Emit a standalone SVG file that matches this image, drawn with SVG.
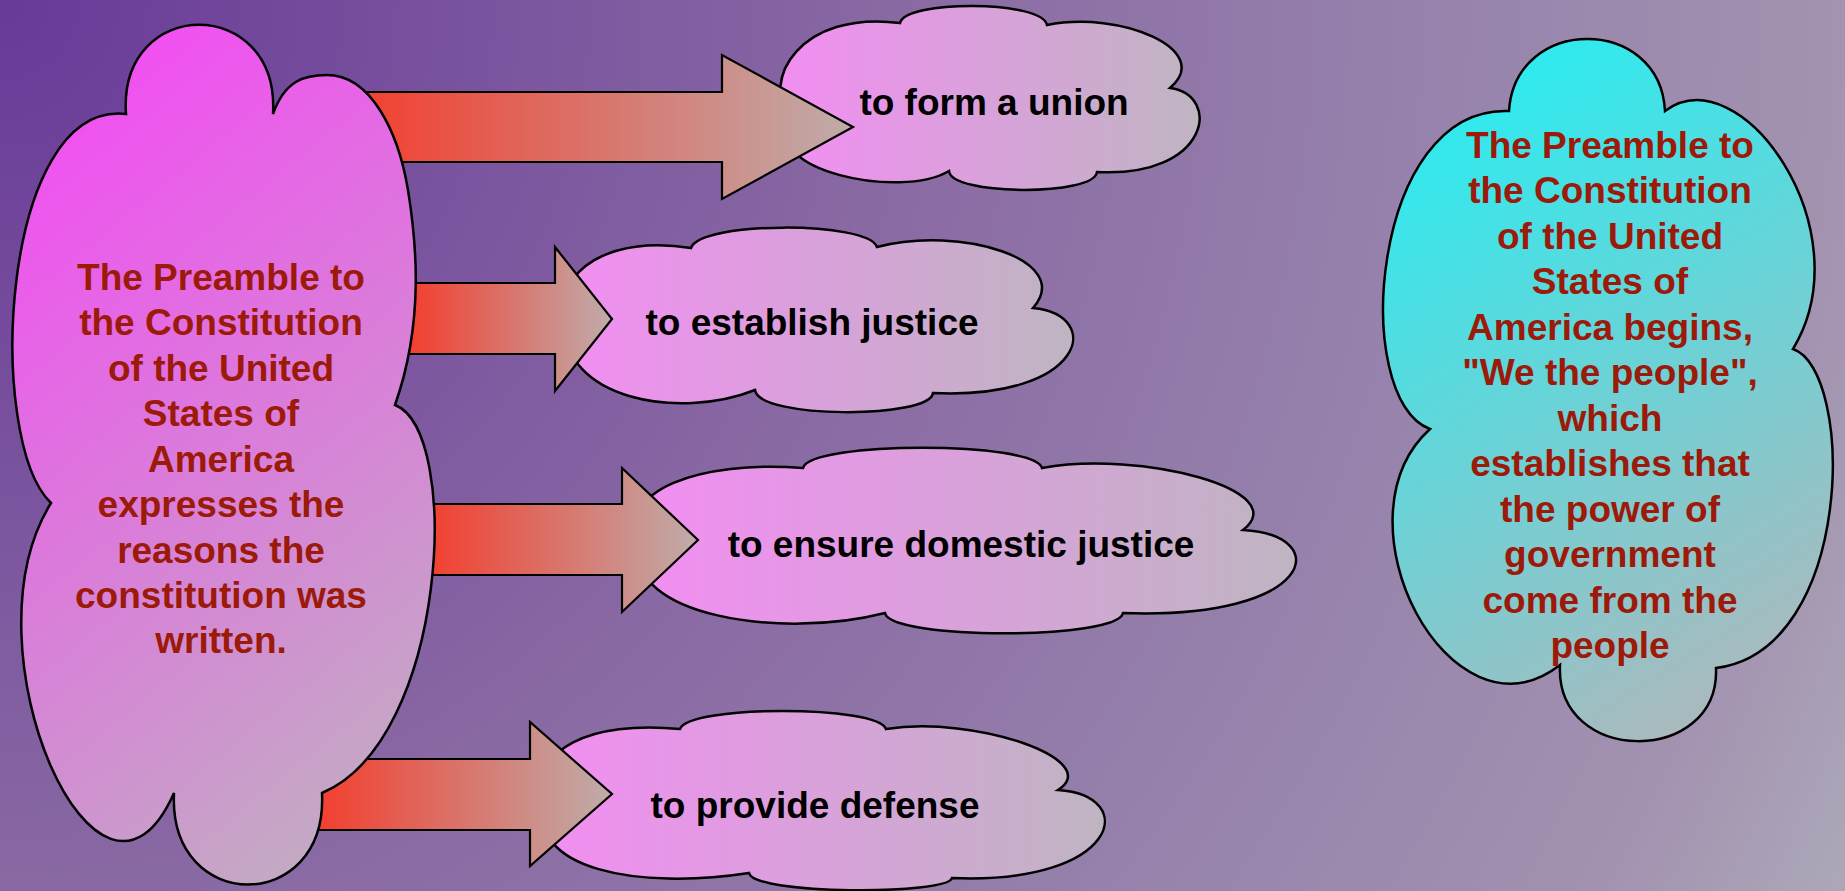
<svg xmlns="http://www.w3.org/2000/svg" width="1845" height="891" viewBox="0 0 1845 891">
<defs>
<radialGradient id="bg" gradientUnits="userSpaceOnUse" cx="0" cy="0" r="2030">
<stop offset="0" stop-color="#683a98"/>
<stop offset="0.45" stop-color="#8a6aa4"/>
<stop offset="0.7" stop-color="#9682ac"/>
<stop offset="0.9" stop-color="#a292b0"/>
<stop offset="1" stop-color="#aca6b8"/>
</radialGradient>
<linearGradient id="gLeft" x1="0.3" y1="0" x2="0.7" y2="1">
<stop offset="0" stop-color="#f24ef2"/>
<stop offset="1" stop-color="#c2acc2"/>
</linearGradient>
<linearGradient id="gRight" x1="0.3" y1="0" x2="0.7" y2="1">
<stop offset="0" stop-color="#2aecf0"/>
<stop offset="1" stop-color="#aeb8bc"/>
</linearGradient>
<linearGradient id="gTarget" x1="0" y1="0" x2="1" y2="0">
<stop offset="0" stop-color="#f28ef2"/>
<stop offset="1" stop-color="#bfb5c2"/>
</linearGradient>
<linearGradient id="gArrow" x1="0" y1="0" x2="1" y2="0">
<stop offset="0" stop-color="#f43c2c"/>
<stop offset="1" stop-color="#bfacaa"/>
</linearGradient>
<style>
.cloud{stroke:#000;stroke-width:2.5;stroke-linejoin:miter}
.arrow{fill:url(#gArrow);stroke:#000;stroke-width:2.2;stroke-linejoin:miter}
.lbl{font-family:"Liberation Sans",Arial,sans-serif;font-weight:bold;font-size:37px;fill:#000;text-anchor:middle}
.big{font-family:"Liberation Sans",Arial,sans-serif;font-weight:bold;font-size:37px;fill:#9b1a0a;text-anchor:middle}
</style>
</defs>
<rect x="0" y="0" width="1845" height="891" fill="url(#bg)"/>

<g id="node-union">
<path class="cloud" fill="url(#gTarget)" d="M900,23 C905,0 1042,0 1047,25 C1120,10 1215,50 1170,88 C1222,95 1210,178 1097,172 C1095,196 951,196 949,171 C900,200 760,170 790,120 C760,80 800,10 900,23 Z"/>
<text class="lbl" x="994" y="115">to form a union</text>
</g>

<g id="node-justice">
<path class="cloud" fill="url(#gTarget)" d="M691,248 C700,221 868,221 877,247 C960,225 1075,260 1033,308 C1105,315 1085,400 933,393 C930,419 758,419 755,390 C680,420 560,400 565,320 C555,270 610,235 691,248 Z"/>
<text class="lbl" x="812" y="335">to establish justice</text>
</g>

<g id="node-domestic">
<path class="cloud" fill="url(#gTarget)" d="M803,468 C810,441 1035,441 1042,468 C1140,450 1295,490 1243,530 C1335,535 1315,620 1123,613 C1118,640 890,640 885,613 C780,640 625,615 640,545 C615,490 700,460 803,468 Z"/>
<text class="lbl" x="961" y="557">to ensure domestic justice</text>
</g>

<g id="node-defense">
<path class="cloud" fill="url(#gTarget)" d="M680,729 C688,705 878,705 886,729 C975,715 1105,760 1058,790 C1140,795 1120,885 952,878 C948,895 753,895 749,873 C640,890 525,870 545,800 C530,750 590,720 680,729 Z"/>
<text class="lbl" x="815" y="818">to provide defense</text>
</g>

<g id="connectors">
<polygon class="arrow" points="340,92 722,92 722,55 853,127 722,199 722,162 340,162"/>
<polygon class="arrow" points="405,283 555,283 555,247 612,319 555,391 555,354 405,354"/>
<polygon class="arrow" points="420,504 622,504 622,468 698,540 622,612 622,575 420,575"/>
<polygon class="arrow" points="310,759 530,759 530,722 612,794 530,866 530,830 310,830"/>
</g>

<g id="node-preamble">
<path class="cloud" fill="url(#gLeft)" d="M126,114 C118,-5 280,-5 273,114 C285,80 305,75 327,75 C370,75 398,130 408,190 C416,240 425,320 395,405 C462,430 448,740 322,793 C328,915 168,915 174,793 C100,960 -40,650 51,503 C-15,440 0,100 126,114 Z"/>
<text class="big" x="221" y="290">The Preamble to</text>
<text class="big" x="221" y="335">the Constitution</text>
<text class="big" x="221" y="381">of the United</text>
<text class="big" x="221" y="426">States of</text>
<text class="big" x="221" y="472">America</text>
<text class="big" x="221" y="517">expresses the</text>
<text class="big" x="221" y="563">reasons the</text>
<text class="big" x="221" y="608">constitution was</text>
<text class="big" x="221" y="653">written.</text>
</g>

<g id="node-wethepeople">
<path class="cloud" fill="url(#gRight)" d="M1509,111 C1515,15 1660,15 1665,111 C1740,55 1865,230 1793,349 C1855,370 1855,650 1716,668 C1720,766 1555,766 1560,665 C1450,750 1330,520 1430,429 C1350,400 1370,105 1509,111 Z"/>
<text class="big" x="1610" y="158">The Preamble to</text>
<text class="big" x="1610" y="203">the Constitution</text>
<text class="big" x="1610" y="249">of the United</text>
<text class="big" x="1610" y="294">States of</text>
<text class="big" x="1610" y="340">America begins,</text>
<text class="big" x="1610" y="385">"We the people",</text>
<text class="big" x="1610" y="431">which</text>
<text class="big" x="1610" y="476">establishes that</text>
<text class="big" x="1610" y="522">the power of</text>
<text class="big" x="1610" y="567">government</text>
<text class="big" x="1610" y="613">come from the</text>
<text class="big" x="1610" y="658">people</text>
</g>
</svg>
